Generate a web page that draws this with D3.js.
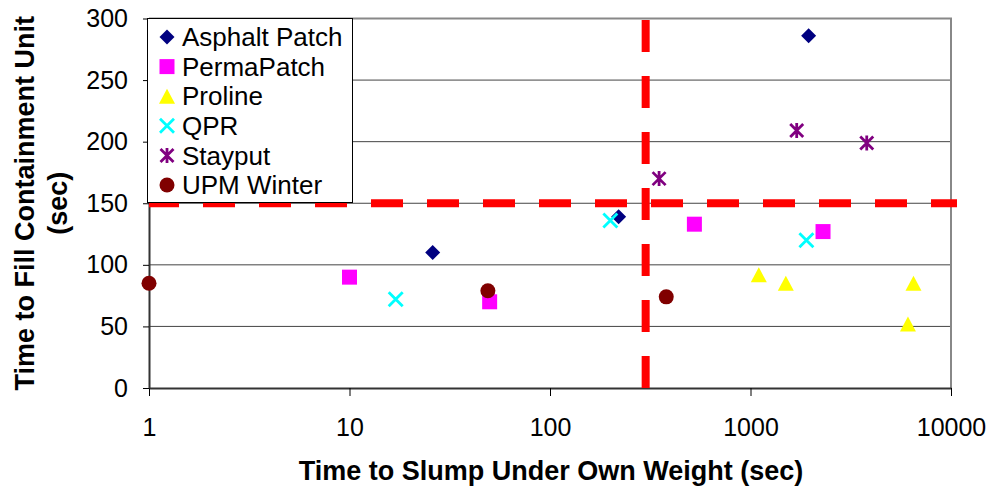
<!DOCTYPE html>
<html>
<head>
<meta charset="utf-8">
<script src="https://cdn.jsdelivr.net/npm/d3@7"></script>
<style>
  body { margin: 0; background: #fff; }
  svg { display: block; font-family: Arial, "Liberation Sans", sans-serif; }
</style>
</head>
<body>
<div id="chart"></div>
<script>
// data (x: time to slump, y: time to fill)
const asphaltPatch = [[1950, 286], [26, 110], [220, 139]];
const permaPatch = [[10, 90], [50, 70], [525, 133], [2300, 127]];
const proline = [[1100, 92], [1500, 85], [6500, 85], [6100, 52]];
const qpr = [[17, 72], [200, 136], [1900, 120]];
const stayput = [[350, 170], [1700, 209], [3800, 199]];
const upmWinter = [[1, 85], [49, 79], [380, 74]];

const seriesNames = ['Asphalt Patch', 'PermaPatch', 'Proline', 'QPR', 'Stayput', 'UPM Winter'];
const xTicks = [1, 10, 100, 1000, 10000];
const yTicks = [0, 50, 100, 150, 200, 250, 300];
const slumpLimit = 300;
const fillLimit = 150;

const width = 990;
const height = 489;
const margin = { top: 18.5, right: 39, bottom: 101, left: 149 };

const svg = d3.select('#chart').append('svg')
  .attr('width', width)
  .attr('height', height);

const x = d3.scaleLog().domain([1, 10000]).range([margin.left, width - margin.right]);
const y = d3.scaleLinear().domain([0, 300]).range([height - margin.bottom, margin.top]);

// gridlines
svg.append('g')
  .selectAll('line')
  .data(yTicks.filter(d => d > 0 && d < 300))
  .enter()
  .append('line')
  .attr('x1', x(1))
  .attr('x2', x(10000))
  .attr('y1', d => y(d))
  .attr('y2', d => y(d))
  .style('stroke', '#444')
  .style('stroke-width', 1);

// plot frame (top / right)
svg.append('path')
  .attr('d', `M${x(1)},${y(300)}H${x(10000)}V${y(0)}`)
  .style('fill', 'none')
  .style('stroke', '#888')
  .style('stroke-width', 2);

// axes
const xAxis = d3.axisBottom(x).tickValues(xTicks).tickFormat(d3.format('d')).tickSize(8).tickSizeOuter(0);
const gX = svg.append('g')
  .attr('transform', `translate(0,${y(0)})`)
  .call(xAxis);
gX.selectAll('text')
  .attr('y', 47.5)
  .attr('dy', null)
  .style('font-size', '25px')
  .style('fill', '#000');

const yAxis = d3.axisLeft(y).tickValues(yTicks).tickSize(6).tickSizeOuter(0).tickPadding(15);
const gY = svg.append('g')
  .attr('transform', `translate(${x(1)},0)`)
  .call(yAxis);
gY.selectAll('text')
  .style('font-size', '25px')
  .style('fill', '#000');

[gX, gY].forEach(g => {
  g.select('.domain').style('stroke', '#333').style('stroke-width', 2);
  g.selectAll('.tick line').style('stroke', '#000').style('stroke-width', 1);
});

// threshold lines
svg.append('line')
  .attr('x1', x(1))
  .attr('x2', x(10000) + 6)
  .attr('y1', y(fillLimit))
  .attr('y2', y(fillLimit))
  .style('stroke', '#ff0000')
  .style('stroke-width', 8)
  .style('stroke-dasharray', '32,24')
  .attr('stroke-dashoffset', 2);

svg.append('line')
  .attr('x1', x(slumpLimit))
  .attr('x2', x(slumpLimit))
  .attr('y1', y(300) + 1.5)
  .attr('y2', y(0))
  .style('stroke', '#ff0000')
  .style('stroke-width', 8)
  .style('stroke-dasharray', '32,24');

// marker shapes
const markers = [
  { fill: '#000080', path: 'M0,-7.5L7.5,0L0,7.5L-7.5,0Z' },
  { fill: '#ff00ff', path: 'M-7.5,-7.5H7.5V7.5H-7.5Z' },
  { fill: '#ffff00', path: 'M0,-7.5L8,7.5H-8Z' },
  { stroke: '#00ffff', path: 'M-7,-7L7,7M-7,7L7,-7' },
  { stroke: '#800080', path: 'M0,-7.5V7.5M-6.5,-6.5L6.5,6.5M-6.5,6.5L6.5,-6.5' },
  { fill: '#800000', circle: true }
];

function drawMarker(sel, m) {
  if (m.circle) {
    sel.append('circle').attr('r', 7.5).style('fill', m.fill);
  } else if (m.fill) {
    sel.append('path').attr('d', m.path).style('fill', m.fill);
  } else {
    sel.append('path').attr('d', m.path)
      .style('fill', 'none')
      .style('stroke', m.stroke)
      .style('stroke-width', 2.8);
  }
}

const allSeries = [asphaltPatch, permaPatch, proline, qpr, stayput, upmWinter];

allSeries.forEach((data, i) => {
  svg.append('g')
    .selectAll('g')
    .data(data)
    .enter()
    .append('g')
    .attr('transform', d => `translate(${x(d[0])},${y(d[1])})`)
    .each(function () { drawMarker(d3.select(this), markers[i]); });
});

// legend
const legend = svg.append('g');
legend.append('rect')
  .attr('x', 147.5)
  .attr('y', 18.5)
  .attr('width', 205)
  .attr('height', 184)
  .style('fill', '#fff')
  .style('stroke', '#000')
  .style('stroke-width', 1);

const item = legend.selectAll('.item')
  .data(seriesNames)
  .enter()
  .append('g')
  .attr('class', 'item')
  .attr('transform', (d, i) => `translate(167,${37 + i * 29.6})`);

item.each(function (d, i) { drawMarker(d3.select(this), markers[i]); });

item.append('text')
  .attr('x', 15)
  .attr('dy', '0.35em')
  .style('font-size', '26px')
  .text(d => d);

// axis titles
svg.append('text')
  .attr('x', (x(1) + x(10000)) / 2 + 1)
  .attr('y', 480)
  .attr('text-anchor', 'middle')
  .style('font-size', '27px')
  .style('font-weight', 'bold')
  .text('Time to Slump Under Own Weight (sec)');

const yTitle = svg.append('text')
  .attr('transform', `translate(0,${(y(0) + y(300)) / 2}) rotate(-90)`)
  .attr('text-anchor', 'middle')
  .style('font-size', '27px')
  .style('font-weight', 'bold');
yTitle.append('tspan').attr('x', 0).attr('y', 34).text('Time to Fill Containment Unit');
yTitle.append('tspan').attr('x', 0).attr('y', 67).text('(sec)');
</script>
</body>
</html>
